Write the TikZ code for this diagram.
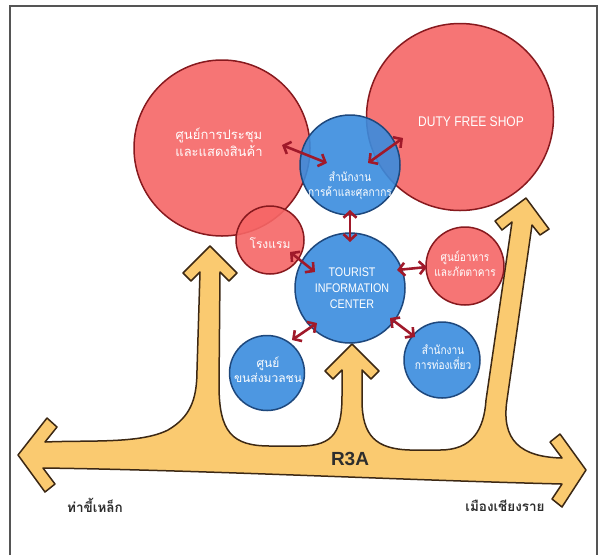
\documentclass[tikz,border=0pt]{standalone}
\usepackage{fontspec}
\setmainfont{Liberation Sans}
\newfontfamily\thai[Script=Thai]{Loma}
\newfontfamily\thainarrow[Script=Thai,FakeStretch=0.84]{Loma}
\newfontfamily\engnarrow[FakeStretch=0.86]{Liberation Sans}
\usetikzlibrary{arrows.meta,calc}
\definecolor{redfill}{RGB}{246,102,102}
\definecolor{redline}{RGB}{135,25,30}
\definecolor{bluefill}{RGB}{58,140,222}
\definecolor{blueline}{RGB}{30,72,125}
\definecolor{roadfill}{RGB}{250,202,112}
\definecolor{roadline}{RGB}{60,40,20}
\definecolor{arrcol}{RGB}{160,25,42}
\definecolor{framecol}{RGB}{85,85,85}
\definecolor{labcol}{RGB}{45,45,45}
\tikzset{
  redc/.style={circle, draw=redline, fill=redfill, fill opacity=0.9, line width=1.5pt, inner sep=0pt},
  bluec/.style={circle, draw=blueline, fill=bluefill, fill opacity=0.9, line width=1.5pt, inner sep=0pt},
  thaitxt/.style={text=white, align=center, font=\thai\fontsize{12}{15}\selectfont, inner sep=0pt},
  engtxt/.style={text=white, align=center, font=\engnarrow\fontsize{14}{16}\selectfont, inner sep=0pt},
  rarr/.style={draw=arrcol, line width=2.6pt, {Straight Barb[length=6pt,width=13pt]}-{Straight Barb[length=6pt,width=13pt]}},
  road/.style={draw=roadline, fill=roadfill, line width=1.5pt, line join=round},
  bottomlab/.style={text=labcol, font=\thai\bfseries\fontsize{13.5}{15}\selectfont, inner sep=0pt}
}
\begin{document}
\begin{tikzpicture}[x=1pt,y=-1pt]
\useasboundingbox (0,0) rectangle (601,555);
\fill[white] (0,0) rectangle (601,555);
\draw[framecol, line width=1.6pt] (10,555) -- (10,6) -- (597,6) -- (597,555);

% road
\draw[road] (18,455) -- (47,418) -- (57,427) -- (45,442)
  .. controls (90,440) and (140,444) .. (168,430)
  .. controls (190,417) and (197,400) .. (197,370)
  -- (200,272) -- (191,281) -- (183,273) -- (210,246) -- (237,273) -- (229,281) -- (220,272)
  -- (219,385) .. controls (219,432) and (232,446) .. (270,446)
  -- (300,446) .. controls (335,446) and (342,430) .. (342,395)
  -- (342,370) -- (333,379) -- (325,371) -- (352,344) -- (379,371) -- (371,379) -- (362,370)
  -- (362,400) .. controls (362,436) and (376,449) .. (410,450)
  -- (440,450) .. controls (472,450) and (484,430) .. (486,400)
  -- (512,222) -- (502,230) -- (495,221) -- (526,198) -- (549,229) -- (540,235) -- (532,225)
  -- (507,400) .. controls (501,440) and (520,457) .. (562,458)
  -- (550,442) -- (560,434) -- (586,470) -- (562,507) -- (552,499) -- (562,484)
  .. controls (400,480) and (200,470) .. (43,468)
  -- (55,484) -- (45,492) -- cycle;

\node[text=labcol, font=\bfseries\fontsize{19}{22}\selectfont, inner sep=0pt] (r3a) at (350,459) {R3A};
\node[bottomlab] (tachi) at (95,505) {ท่าขี้เหล็ก};
\node[bottomlab] (chiang) at (505,506) {เมืองเชียงราย};

% circles
\node[redc, minimum size=176pt] (conv) at (222,148) {};
\node[redc, minimum size=187pt] (duty) at (460,117) {};
\node[redc, minimum size=68pt] (hotel) at (270,240) {};
\node[redc, minimum size=78pt] (food) at (465,266) {};
\node[bluec, minimum size=100pt] (trade) at (350,165) {};
\node[bluec, minimum size=110pt] (tic) at (350,288) {};
\node[bluec, minimum size=75pt] (trans) at (267,373) {};
\node[bluec, minimum size=76pt] (tour) at (442,360) {};

\node[thaitxt, font=\thai\fontsize{13}{17}\selectfont] (tconv) at (219,142) {ศูนย์การประชุม\\และแสดงสินค้า};
\node[engtxt] (tduty) at (471,122) {DUTY FREE SHOP};
\node[thaitxt, font=\thainarrow\fontsize{12}{15}\selectfont] (ttrade) at (350,186) {สำนักงาน\\การค้าและศุลกากร};
\node[thaitxt] (thotel) at (270,243) {โรงแรม};
\node[engtxt, font=\engnarrow\fontsize{12.5}{16}\selectfont] (ttic) at (352,288) {TOURIST\\INFORMATION\\CENTER};
\node[thaitxt, font=\thainarrow\fontsize{12}{15}\selectfont] (tfood) at (465,264) {ศูนย์อาหาร\\และภัตตาคาร};
\node[thaitxt] (ttrans) at (268,370) {ศูนย์\\ขนส่งมวลชน};
\node[thaitxt, font=\thainarrow\fontsize{12}{15}\selectfont] (ttour) at (443,357) {สำนักงาน\\การท่องเที่ยว};

% connectors
\coordinate (a1s) at (282,145); \coordinate (a1e) at (327,163);
\coordinate (a2s) at (403,138); \coordinate (a2e) at (368,163);
\coordinate (a3s) at (350,210); \coordinate (a3e) at (350,242);
\coordinate (a4s) at (290,252); \coordinate (a4e) at (315,272);
\coordinate (a5s) at (397,270); \coordinate (a5e) at (427,267);
\coordinate (a6s) at (317,323); \coordinate (a6e) at (292,340);
\coordinate (a7s) at (390,318); \coordinate (a7e) at (415,337);
\draw[rarr] (a1s) -- (a1e);
\draw[rarr] (a2s) -- (a2e);
\draw[rarr] (a3s) -- (a3e);
\draw[rarr] (a4s) -- (a4e);
\draw[rarr] (a5s) -- (a5e);
\draw[rarr] (a6s) -- (a6e);
\draw[rarr] (a7s) -- (a7e);
\end{tikzpicture}
\end{document}
